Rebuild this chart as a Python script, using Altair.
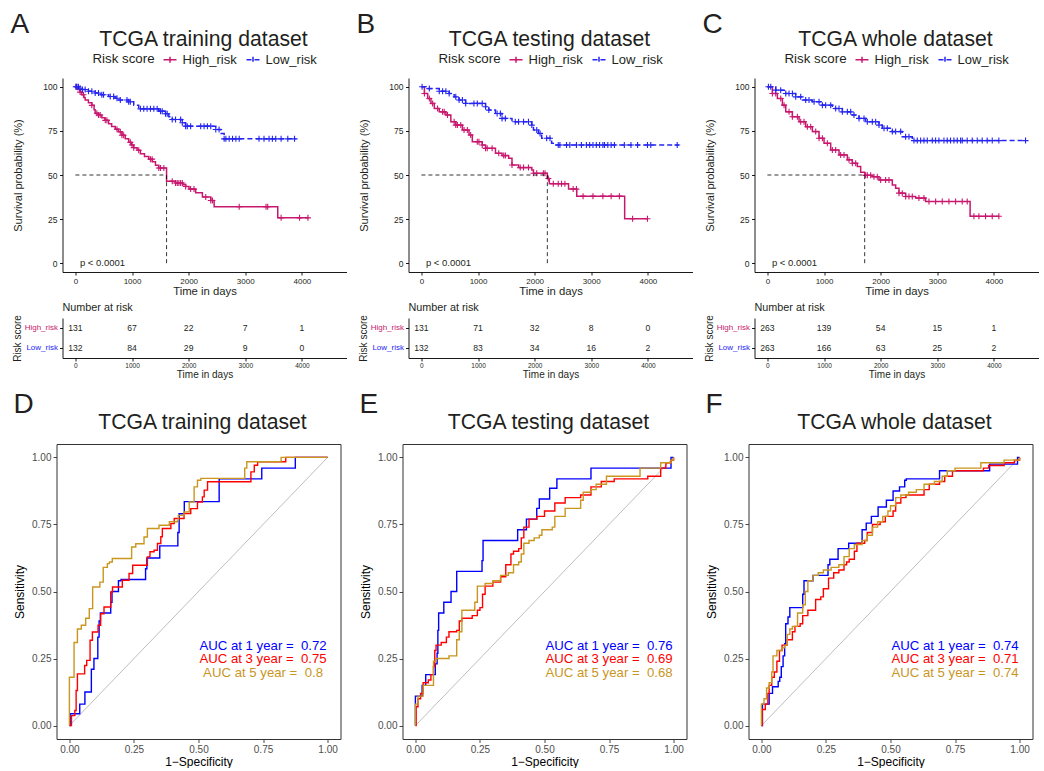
import altair as alt
import pandas as pd

FONT = "Liberation Sans"
INK = "#231F20"
HIGH_COLOR = "#C8176E"
LOW_COLOR = "#2424F2"
ROC_COLORS = ["#0000FF", "#FF0000", "#C9961F"]
DIAG_COLOR = "#BEBEBE"

GROUPS = ["High_risk", "Low_risk"]
YEARS = ["1 year", "3 year", "5 year"]
RISK_TIMES = [0, 1000, 2000, 3000, 4000]
KM_TICKS = [0, 25, 50, 75, 100]
ROC_TICKS = [0, 0.25, 0.5, 0.75, 1]
DIAG = [0, 1]
PANEL_TITLES = ["TCGA training dataset", "TCGA testing dataset", "TCGA whole dataset"]

# ---------------- Kaplan-Meier step curves: (time in days, survival %) ----------------
A_HIGH = [(0, 100), (40, 98.5), (80, 97), (112, 95.5), (150, 94), (172, 92.5), (230, 91), (290, 89.5),
          (330, 87), (349, 85), (400, 84), (467, 82.5), (520, 81), (586, 79), (640, 77.5), (704, 76),
          (760, 74.5), (822, 72.5), (880, 70.5), (941, 68.5), (990, 67), (1030, 65.5), (1090, 64),
          (1148, 62), (1220, 60.5), (1296, 59), (1360, 57.5), (1414, 55.5), (1470, 54), (1610, 46.5),
          (1769, 45.5), (1900, 44.5), (1947, 43.5), (2006, 42), (2124, 40), (2243, 37.5), (2391, 35.5),
          (2450, 32), (3574, 25.7), (4118, 25.7)]
A_LOW = [(0, 100), (60, 99.2), (112, 98.5), (231, 97.5), (349, 96.5), (450, 95.5), (586, 94.5),
         (700, 93.5), (763, 92.5), (941, 91.5), (1030, 89.5), (1118, 87.5), (1473, 86.2), (1592, 84.7),
         (1650, 83), (1710, 81.5), (1888, 79.6), (1947, 77.7), (2479, 75.8), (2568, 73.5), (2627, 70.5),
         (3900, 70.5)]
B_HIGH = [(0, 100), (53, 96.2), (111, 93.4), (169, 90.6), (228, 87.7), (315, 85.8), (432, 84), (520, 80.2),
          (607, 78.3), (724, 75.5), (841, 72.7), (899, 68.9), (1074, 67), (1133, 65.1), (1308, 62.3),
          (1424, 61), (1541, 59.5), (1600, 55.7), (1716, 54.2), (1950, 52.9), (1979, 51), (2224, 48),
          (2260, 45), (2599, 42), (2744, 38), (3590, 25.2), (4000, 25.2)]
B_LOW = [(0, 100), (82, 99), (315, 97.5), (490, 96.2), (578, 94.3), (665, 92.5), (782, 90.6), (1133, 88.7),
         (1191, 86.8), (1308, 84.9), (1424, 82.1), (1600, 80.2), (1950, 78.3), (1979, 75.5), (2067, 73.6),
         (2125, 70.8), (2300, 68), (2358, 67), (4550, 67)]
C_HIGH = [(0, 100), (88, 96.2), (176, 93.4), (265, 89.6), (324, 85.8), (441, 83), (559, 80.2), (676, 77.4),
          (794, 74.6), (912, 70.8), (1000, 68), (1118, 64.2), (1265, 61.4), (1412, 58.6), (1500, 56.7),
          (1588, 54.8), (1647, 51.5), (1718, 49.8), (1853, 49), (1971, 47.2), (2206, 44.4), (2265, 42.5),
          (2324, 39.7), (2441, 37.8), (2618, 36.9), (2794, 35), (3580, 26.6), (4088, 26.6)]
C_LOW = [(0, 100), (147, 98.1), (324, 96.2), (500, 94.3), (618, 92.5), (794, 91.5), (971, 89.6),
         (1147, 87.7), (1324, 85.8), (1500, 84), (1618, 82.1), (1735, 80.2), (1971, 78.3), (2029, 76.5),
         (2206, 74.6), (2382, 71.7), (2559, 69.5), (4559, 69.5)]

# censoring times (days)
A_HIGH_CENS = [24, 83, 142, 290, 379, 408, 438, 527, 556, 734, 793, 822, 852, 970, 1000, 1030, 1118, 1325,
               1355, 1473, 1503, 1562, 1710, 1769, 1799, 1828, 1858, 1888, 1947, 2035, 2095, 2302, 2391,
               2420, 2893, 3367, 3396, 3633, 3959, 4107]
A_LOW_CENS = [6, 24, 53, 83, 124, 172, 231, 290, 349, 408, 467, 497, 615, 675, 734, 793, 911, 941, 970,
              1148, 1207, 1266, 1325, 1385, 1444, 1503, 1533, 1592, 1621, 1710, 1769, 1858, 1888, 1947,
              1976, 2035, 2213, 2272, 2331, 2391, 2479, 2538, 2627, 2657, 2716, 2775, 2834, 2893, 3243,
              3331, 3420, 3479, 3538, 3633, 3751, 3870]
B_HIGH_CENS = [53, 140, 198, 286, 374, 403, 461, 578, 607, 636, 695, 753, 811, 870, 987, 1016, 1074, 1133,
               1162, 1249, 1366, 1454, 1483, 1600, 1745, 1804, 1891, 1979, 2037, 2154, 2183, 2242, 2329,
               2417, 2475, 2534, 2680, 2738, 2855, 3030, 3205, 3351, 3497, 3730, 3993]
B_LOW_CENS = [12, 140, 315, 374, 432, 490, 607, 665, 724, 782, 928, 987, 1074, 1133, 1191, 1337, 1395,
              1424, 1483, 1658, 1716, 1804, 1891, 1950, 2037, 2096, 2212, 2271, 2417, 2446, 2563, 2621,
              2738, 2826, 2914, 2972, 3030, 3089, 3147, 3205, 3234, 3292, 3351, 3409, 3584, 3701, 3818,
              3993, 4051, 4518]
C_HIGH_CENS = [88, 147, 235, 294, 382, 441, 529, 588, 647, 706, 765, 853, 912, 971, 1059, 1147, 1206, 1294,
               1353, 1441, 1500, 1559, 1735, 1765, 1824, 1882, 1941, 2000, 2088, 2147, 2324, 2382, 2441,
               2500, 2559, 2676, 2765, 2853, 2971, 3088, 3206, 3324, 3441, 3529, 3647, 3735, 3853, 3971,
               4088]
C_LOW_CENS = [18, 59, 147, 235, 324, 382, 441, 500, 588, 676, 735, 824, 912, 971, 1029, 1118, 1206, 1265,
              1324, 1412, 1471, 1529, 1618, 1706, 1765, 1853, 1912, 1971, 2059, 2118, 2206, 2265, 2353,
              2441, 2500, 2588, 2647, 2706, 2765, 2824, 2912, 2971, 3029, 3118, 3176, 3235, 3294, 3353,
              3412, 3441, 3529, 3618, 3706, 3794, 3882, 3971, 4088, 4559]

MEDIANS = [1610, 2224, 1718]

# number at risk at 0, 1000, 2000, 3000, 4000 days
A_RISK_HIGH = [131, 67, 22, 7, 1]
A_RISK_LOW = [132, 84, 29, 9, 0]
B_RISK_HIGH = [131, 71, 32, 8, 0]
B_RISK_LOW = [132, 83, 34, 16, 2]
C_RISK_HIGH = [263, 139, 54, 15, 1]
C_RISK_LOW = [263, 166, 63, 25, 2]

# ---------------- ROC curves: (1-specificity, sensitivity) ----------------
D_1Y = [(0, 0), (0.003, 0.044), (0.04, 0.044), (0.04, 0.08), (0.06, 0.08), (0.06, 0.125), (0.08, 0.125),
        (0.085, 0.21), (0.095, 0.25), (0.105, 0.25), (0.11, 0.33), (0.115, 0.39), (0.12, 0.42),
        (0.155, 0.42), (0.16, 0.46), (0.165, 0.5), (0.18, 0.5), (0.19, 0.54), (0.2, 0.545), (0.29, 0.545),
        (0.295, 0.585), (0.3, 0.625), (0.345, 0.625), (0.35, 0.67), (0.415, 0.67), (0.42, 0.72),
        (0.425, 0.79), (0.44, 0.79), (0.445, 0.835), (0.575, 0.835), (0.58, 0.92), (0.74, 0.92),
        (0.745, 0.96), (0.875, 0.96), (0.875, 1.0), (1, 1)]
D_3Y = [(0, 0), (0.008, 0.037), (0.021, 0.056), (0.026, 0.131), (0.031, 0.193), (0.054, 0.193),
        (0.059, 0.224), (0.067, 0.243), (0.076, 0.243), (0.08, 0.318), (0.089, 0.349), (0.109, 0.349),
        (0.111, 0.374), (0.121, 0.417), (0.134, 0.442), (0.154, 0.442), (0.16, 0.498), (0.167, 0.517),
        (0.199, 0.517), (0.205, 0.542), (0.231, 0.567), (0.245, 0.598), (0.296, 0.598), (0.302, 0.629),
        (0.312, 0.648), (0.328, 0.654), (0.341, 0.679), (0.354, 0.704), (0.36, 0.735), (0.393, 0.753),
        (0.406, 0.772), (0.444, 0.791), (0.47, 0.809), (0.496, 0.834), (0.515, 0.853), (0.522, 0.878),
        (0.535, 0.909), (0.696, 0.909), (0.703, 0.946), (0.716, 0.971), (0.729, 0.984), (0.832, 0.984),
        (0.838, 1.0), (1, 1)]
D_5Y = [(0, 0), (0, 0.18), (0.018, 0.18), (0.018, 0.31), (0.031, 0.31), (0.031, 0.36), (0.044, 0.36),
        (0.046, 0.374), (0.059, 0.374), (0.063, 0.4), (0.074, 0.4), (0.077, 0.436), (0.087, 0.436),
        (0.09, 0.517), (0.115, 0.517), (0.118, 0.535), (0.128, 0.535), (0.131, 0.59), (0.147, 0.604),
        (0.155, 0.61), (0.166, 0.623), (0.238, 0.623), (0.241, 0.666), (0.257, 0.678), (0.285, 0.678),
        (0.289, 0.703), (0.302, 0.735), (0.341, 0.735), (0.347, 0.747), (0.38, 0.747), (0.387, 0.76),
        (0.419, 0.765), (0.422, 0.784), (0.444, 0.797), (0.464, 0.834), (0.483, 0.89), (0.496, 0.915),
        (0.509, 0.922), (0.67, 0.922), (0.679, 0.96), (0.687, 0.984), (0.82, 0.99), (0.82, 1.0), (1, 1)]
E_1Y = [(0, 0), (0, 0.11), (0.026, 0.11), (0.026, 0.15), (0.04, 0.19), (0.071, 0.19), (0.077, 0.23),
        (0.084, 0.27), (0.087, 0.355), (0.09, 0.42), (0.11, 0.42), (0.11, 0.46), (0.135, 0.46),
        (0.138, 0.5), (0.155, 0.5), (0.16, 0.575), (0.258, 0.575), (0.258, 0.615), (0.262, 0.69),
        (0.39, 0.69), (0.396, 0.73), (0.425, 0.73), (0.43, 0.77), (0.465, 0.77), (0.47, 0.81),
        (0.48, 0.845), (0.515, 0.845), (0.52, 0.885), (0.548, 0.92), (0.677, 0.92), (0.68, 0.96),
        (0.97, 0.96), (0.99, 1.0), (1, 1)]
E_3Y = [(0, 0), (0.003, 0.07), (0.01, 0.1), (0.02, 0.12), (0.03, 0.16), (0.05, 0.17), (0.06, 0.19),
        (0.07, 0.22), (0.075, 0.28), (0.08, 0.3), (0.1, 0.31), (0.12, 0.33), (0.13, 0.35), (0.16, 0.355),
        (0.17, 0.39), (0.18, 0.4), (0.22, 0.41), (0.24, 0.43), (0.25, 0.44), (0.26, 0.49), (0.27, 0.52),
        (0.3, 0.535), (0.33, 0.555), (0.35, 0.6), (0.37, 0.64), (0.38, 0.65), (0.4, 0.66), (0.41, 0.7),
        (0.42, 0.74), (0.44, 0.77), (0.47, 0.78), (0.5, 0.8), (0.53, 0.8), (0.54, 0.83), (0.58, 0.85),
        (0.64, 0.86), (0.68, 0.89), (0.72, 0.91), (0.77, 0.92), (0.87, 0.92), (0.9, 0.93), (0.95, 0.96),
        (0.97, 0.98), (0.99, 0.99), (1, 1)]
E_5Y = [(0, 0), (0, 0.08), (0.01, 0.11), (0.03, 0.15), (0.07, 0.15), (0.07, 0.24), (0.08, 0.25),
        (0.12, 0.25), (0.13, 0.26), (0.15, 0.26), (0.16, 0.32), (0.17, 0.35), (0.18, 0.43), (0.22, 0.43),
        (0.23, 0.46), (0.24, 0.52), (0.27, 0.53), (0.3, 0.54), (0.33, 0.56), (0.36, 0.57), (0.38, 0.6),
        (0.4, 0.61), (0.41, 0.64), (0.42, 0.68), (0.44, 0.69), (0.46, 0.7), (0.48, 0.71), (0.49, 0.73),
        (0.53, 0.74), (0.54, 0.78), (0.58, 0.81), (0.64, 0.84), (0.65, 0.87), (0.68, 0.88), (0.7, 0.9),
        (0.74, 0.93), (0.86, 0.93), (0.87, 0.96), (0.95, 0.96), (0.95, 0.98), (0.99, 0.99), (1, 1)]
F_1Y = [(0, 0), (0.004, 0.08), (0.026, 0.08), (0.03, 0.12), (0.043, 0.145), (0.058, 0.145),
        (0.065, 0.165), (0.071, 0.18), (0.077, 0.22), (0.084, 0.26), (0.09, 0.305), (0.094, 0.38),
        (0.103, 0.405), (0.11, 0.44), (0.155, 0.44), (0.16, 0.49), (0.165, 0.54), (0.197, 0.54),
        (0.2, 0.56), (0.252, 0.56), (0.258, 0.6), (0.265, 0.62), (0.297, 0.62), (0.297, 0.66),
        (0.335, 0.66), (0.338, 0.68), (0.387, 0.68), (0.39, 0.73), (0.406, 0.755), (0.426, 0.78),
        (0.445, 0.78), (0.452, 0.815), (0.484, 0.84), (0.505, 0.84), (0.51, 0.875), (0.535, 0.89),
        (0.555, 0.915), (0.561, 0.92), (0.677, 0.92), (0.69, 0.95), (0.871, 0.95), (0.884, 0.975),
        (0.985, 0.975), (0.992, 1.0), (1, 1)]
F_3Y = [(0, 0), (0.003, 0.06), (0.015, 0.08), (0.025, 0.12), (0.03, 0.15), (0.04, 0.18), (0.05, 0.2),
        (0.06, 0.24), (0.07, 0.28), (0.08, 0.3), (0.1, 0.32), (0.12, 0.35), (0.13, 0.37), (0.15, 0.38),
        (0.16, 0.41), (0.18, 0.43), (0.2, 0.43), (0.21, 0.47), (0.23, 0.48), (0.24, 0.51), (0.26, 0.55),
        (0.28, 0.57), (0.3, 0.58), (0.32, 0.6), (0.33, 0.61), (0.34, 0.62), (0.36, 0.65), (0.37, 0.68),
        (0.4, 0.69), (0.41, 0.72), (0.43, 0.75), (0.46, 0.76), (0.48, 0.78), (0.51, 0.8), (0.52, 0.83),
        (0.54, 0.85), (0.56, 0.86), (0.6, 0.86), (0.63, 0.88), (0.65, 0.9), (0.69, 0.91), (0.71, 0.93),
        (0.74, 0.95), (0.85, 0.95), (0.86, 0.96), (0.88, 0.97), (0.94, 0.98), (0.98, 0.99), (1, 1)]
F_5Y = [(0, 0), (0, 0.08), (0.01, 0.1), (0.02, 0.14), (0.03, 0.16), (0.04, 0.2), (0.045, 0.26),
        (0.06, 0.28), (0.08, 0.29), (0.09, 0.3), (0.1, 0.34), (0.11, 0.36), (0.12, 0.37), (0.14, 0.42),
        (0.16, 0.45), (0.17, 0.5), (0.18, 0.54), (0.2, 0.56), (0.22, 0.57), (0.24, 0.58), (0.27, 0.59),
        (0.3, 0.6), (0.32, 0.63), (0.34, 0.66), (0.36, 0.675), (0.39, 0.69), (0.41, 0.71), (0.43, 0.74),
        (0.45, 0.76), (0.47, 0.78), (0.49, 0.8), (0.5, 0.82), (0.52, 0.85), (0.54, 0.86), (0.57, 0.87),
        (0.6, 0.88), (0.63, 0.9), (0.67, 0.91), (0.7, 0.93), (0.72, 0.95), (0.75, 0.96), (0.84, 0.96),
        (0.85, 0.98), (0.93, 0.98), (0.94, 0.99), (0.99, 0.99), (1, 1)]

D_AUC = [0.72, 0.75, 0.8]
E_AUC = [0.76, 0.69, 0.68]
F_AUC = [0.74, 0.71, 0.74]

# ---------------- layout / style constants ----------------
PLUS = "M-1,0L1,0M0,-1L0,1"
LEG_SYMBOL = "M-1,0L1,0M0,-0.45L0,0.45"
KM_W, KM_H = 290, 280
ROC_W, ROC_H = 284, 295
X_DOMAIN = [-228, 4788]
AUC_Y = [0.281, 0.232, 0.183]


def step_value(curve, t):
    v = curve[0][1]
    for tt, s in curve:
        if tt <= t:
            v = s
        else:
            break
    return v


def text_layer(text, x, y, size, align="left", color=INK):
    return alt.Chart(pd.DataFrame({"t": [text]})).mark_text(
        align=align, baseline="alphabetic", fontSize=size, color=color
    ).encode(text="t:N", x=alt.value(x), y=alt.value(y))


def km_panel(letter, title, high, low, high_c, low_c, median, risk_high, risk_low):
    steps = pd.DataFrame(
        [{"time": t, "surv": s, "group": g} for g, cur in (("High_risk", high), ("Low_risk", low)) for t, s in cur]
    )
    cens = pd.DataFrame(
        [{"time": t, "surv": step_value(cur, t), "group": g}
         for g, cur, cs in (("High_risk", high, high_c), ("Low_risk", low, low_c)) for t in cs]
    )
    risk = pd.DataFrame({
        "time": RISK_TIMES * 2,
        "group": [GROUPS[0]] * len(RISK_TIMES) + [GROUPS[1]] * len(RISK_TIMES),
        "n": risk_high + risk_low,
    })
    med = pd.DataFrame({"median": [median], "zero": [0], "half": [50]})
    pv = pd.DataFrame({"t": ["p < 0.0001"], "x": [80], "y": [0]})

    xs = alt.Scale(domain=X_DOMAIN, range=[6, KM_W], nice=False, zero=False)
    ys = alt.Scale(domain=[-5, 105], range=[194, 0], nice=False, zero=False)

    km_xaxis = alt.Axis(orient="bottom", values=RISK_TIMES, format="d", offset=-86, title="Time in days",
                        grid=False, domainColor="black", domainWidth=0.9, tickColor="black", tickWidth=0.9,
                        tickSize=3, labelFontSize=8, labelColor=INK, labelPadding=2, labelFlush=False,
                        titleFontSize=11.3, titleFontWeight="normal", titleColor=INK, titlePadding=0)
    km_yaxis = alt.Axis(orient="left", values=KM_TICKS, offset=-6, title="Survival probability (%)", grid=False,
                        domainColor="black", domainWidth=0.9, tickColor="black", tickWidth=0.9, tickSize=3,
                        labelFontSize=8.5, labelColor=INK, labelPadding=2.5,
                        titleFontSize=11, titleFontWeight="normal", titleColor=INK, titlePadding=19)

    legend = alt.Legend(title="Risk score", orient="none", legendX=36, legendY=-26, direction="horizontal",
                        titleOrient="left", titleFontSize=13.3, titleFontWeight="normal", titleColor=INK,
                        titlePadding=7, labelFontSize=13, labelColor=INK, labelOffset=5, columnPadding=6,
                        symbolType=LEG_SYMBOL, symbolSize=169, symbolStrokeWidth=1.5)
    color = alt.Color("group:N", scale=alt.Scale(domain=GROUPS, range=[HIGH_COLOR, LOW_COLOR]), legend=legend)
    dash = alt.StrokeDash("group:N", scale=alt.Scale(domain=GROUPS, range=[[1, 0], [5, 3]]), legend=legend)

    X = lambda f: alt.X(f, scale=xs, axis=km_xaxis)
    Y = lambda f: alt.Y(f, scale=ys, axis=km_yaxis)

    lines = alt.Chart(steps).mark_line(interpolate="step-after", strokeWidth=1.5).encode(
        x=X("time:Q"), y=Y("surv:Q"), color=color, strokeDash=dash,
    )
    marks = alt.Chart(cens).mark_point(shape=PLUS, size=36, strokeWidth=1.1, filled=False, opacity=1).encode(
        x=X("time:Q"), y=Y("surv:Q"), color=color,
    )
    med_h = alt.Chart(med).mark_rule(strokeDash=[4, 3], strokeWidth=0.8, color="black").encode(
        x=X("zero:Q"), x2=alt.X2("median:Q"), y=Y("half:Q"),
    )
    med_v = alt.Chart(med).mark_rule(strokeDash=[4, 3], strokeWidth=0.8, color="black").encode(
        x=X("median:Q"), y=Y("zero:Q"), y2=alt.Y2("half:Q"),
    )
    pval = alt.Chart(pv).mark_text(align="left", baseline="middle", fontSize=9.5, color=INK).encode(
        x=X("x:Q"), y=Y("y:Q"), text="t:N",
    )
    km = alt.layer(
        lines, marks, med_h, med_v, pval,
        text_layer(letter, -46, -45.3, 28),
        text_layer(title, 147, -32.3, 21.2, align="center"),
    )

    tab_xaxis = alt.Axis(orient="bottom", values=RISK_TIMES, format="d", offset=0, title="Time in days",
                         grid=False, domainColor="black", domainWidth=0.9, tickColor="black", tickWidth=0.9,
                         tickSize=3, labelFontSize=6.5, labelColor=INK, labelPadding=1.5, labelFlush=False,
                         titleFontSize=10, titleFontWeight="normal", titleColor=INK, titlePadding=0)
    tab_yaxis = alt.Axis(orient="left", offset=-6, title="Risk score", grid=False,
                         domainColor="black", domainWidth=0.9, tickColor="black", tickWidth=0.9, tickSize=3,
                         labelFontSize=8, labelPadding=2,
                         labelColor={"condition": {"test": "datum.value == 'High_risk'", "value": HIGH_COLOR},
                                     "value": LOW_COLOR},
                         titleFontSize=10, titleFontWeight="normal", titleColor=INK, titlePadding=2)
    table = alt.Chart(risk).mark_text(fontSize=8.6, color=INK).encode(
        x=alt.X("time:Q", scale=xs, axis=tab_xaxis),
        y=alt.Y("group:N", scale=alt.Scale(type="band", domain=GROUPS, range=[240, 280],
                                           paddingInner=0, paddingOuter=0), axis=tab_yaxis),
        text="n:Q",
    )
    tab = alt.layer(table, text_layer("Number at risk", 6, 232.7, 10.8))

    return alt.layer(km, tab).resolve_scale(y="independent").resolve_axis(
        x="independent", y="independent"
    ).properties(width=KM_W, height=KM_H)


def roc_panel(letter, title, curves, aucs):
    rows = []
    for year, cur in zip(YEARS, curves):
        for i, (f, t) in enumerate(cur):
            rows.append({"fpr": f, "tpr": t, "year": year, "i": i})
    df = pd.DataFrame(rows)
    sc = alt.Scale(domain=[-0.05, 1.05], nice=False, zero=False)
    xax = alt.Axis(values=ROC_TICKS, format=".2f", title="1\u2212Specificity", grid=False, domain=False,
                   tickColor="#333333", tickWidth=0.9, tickSize=3.5, labelFontSize=10, labelColor="#4D4D4D",
                   labelPadding=1.5, labelFlush=False, titleFontSize=12, titleFontWeight="normal",
                   titleColor="black", titlePadding=2)
    yax = alt.Axis(values=ROC_TICKS, format=".2f", title="Sensitivity", grid=False, domain=False,
                   tickColor="#333333", tickWidth=0.9, tickSize=3.5, labelFontSize=10, labelColor="#4D4D4D",
                   labelPadding=2, labelFlush=False, titleFontSize=12, titleFontWeight="normal",
                   titleColor="black", titlePadding=5)
    diag = alt.Chart(pd.DataFrame({"v": DIAG})).mark_line(color=DIAG_COLOR, strokeWidth=1).encode(
        x=alt.X("v:Q", scale=sc, axis=xax), y=alt.Y("v:Q", scale=sc, axis=yax)
    )
    lines = alt.Chart(df).mark_line(interpolate="step-after", strokeWidth=1.4).encode(
        x=alt.X("fpr:Q", scale=sc, axis=xax),
        y=alt.Y("tpr:Q", scale=sc, axis=yax),
        color=alt.Color("year:N", scale=alt.Scale(domain=YEARS, range=ROC_COLORS), legend=None),
        order="i:Q",
    )
    texts = []
    for year, auc, col, yy in zip(YEARS, aucs, ROC_COLORS, AUC_Y):
        lab = f"AUC at {year} =\u00a0 {auc:g}"
        tdf = pd.DataFrame({"t": [lab], "x": [0.75], "y": [yy]})
        texts.append(
            alt.Chart(tdf).mark_text(align="center", baseline="alphabetic", fontSize=13.2, color=col).encode(
                text="t:N",
                x=alt.X("x:Q", scale=sc, axis=xax),
                y=alt.Y("y:Q", scale=sc, axis=yax),
            )
        )
    return alt.layer(
        diag, lines, *texts,
        text_layer(letter, -43, -31, 28),
        text_layer(title, 146, -14.7, 21.2, align="center"),
    ).properties(width=ROC_W, height=ROC_H, view=alt.ViewBackground(stroke="#333333", strokeWidth=1))


panels = [
    km_panel("A", PANEL_TITLES[0], A_HIGH, A_LOW, A_HIGH_CENS, A_LOW_CENS, MEDIANS[0], A_RISK_HIGH, A_RISK_LOW),
    km_panel("B", PANEL_TITLES[1], B_HIGH, B_LOW, B_HIGH_CENS, B_LOW_CENS, MEDIANS[1], B_RISK_HIGH, B_RISK_LOW),
    km_panel("C", PANEL_TITLES[2], C_HIGH, C_LOW, C_HIGH_CENS, C_LOW_CENS, MEDIANS[2], C_RISK_HIGH, C_RISK_LOW),
    roc_panel("D", PANEL_TITLES[0], [D_1Y, D_3Y, D_5Y], D_AUC),
    roc_panel("E", PANEL_TITLES[1], [E_1Y, E_3Y, E_5Y], E_AUC),
    roc_panel("F", PANEL_TITLES[2], [F_1Y, F_3Y, F_5Y], F_AUC),
]

# with align="all" every grid row is as tall as the tallest panel (295 px), so the
# row gap is reduced by the 15 px that the KM+risk-table block is shorter
chart = alt.concat(
    *panels, columns=3, spacing={"row": 71, "column": 56}, bounds="flush", align="all"
).resolve_scale(color="independent", strokeDash="independent").properties(
    padding={"left": 9.5, "top": 10, "right": 0, "bottom": 0}
).configure(font=FONT, background="white").configure_view(stroke="transparent")

chart.save("out.html", embed_options={"renderer": "svg", "actions": False})
